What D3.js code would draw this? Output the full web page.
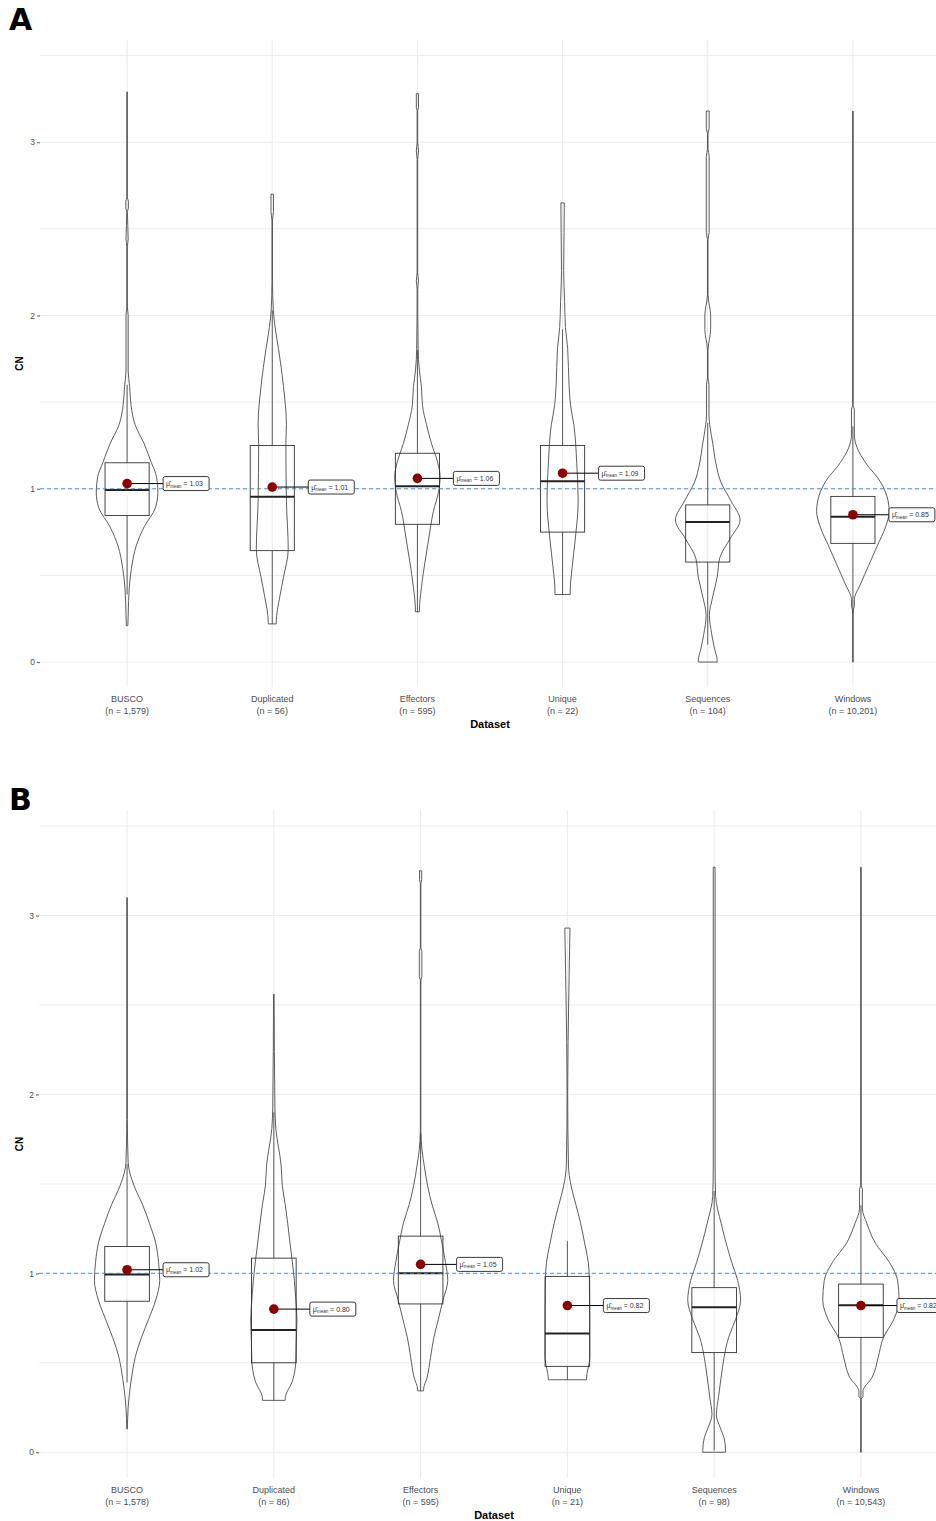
<!DOCTYPE html>
<html>
<head>
<meta charset="utf-8">
<script src="https://cdn.jsdelivr.net/npm/d3@7"></script>
<style>
  body { margin: 0; background: #fff; }
  svg { display: block; }
</style>
</head>
<body>
<svg id="fig" width="936" height="1521"></svg>
<script>
// ---- categories ----
const datasets = ["BUSCO", "Duplicated", "Effectors", "Unique", "Sequences", "Windows"];
const yTicks = [0, 1, 2, 3];

// ---- panel A: sample sizes and box statistics ----
const nA    = ["1,579", "56", "595", "22", "104", "10,201"];
const q1A   = [0.846, 0.643, 0.795, 0.750, 0.577, 0.685];
const medA  = [0.993, 0.954, 1.015, 1.044, 0.808, 0.839];
const q3A   = [1.150, 1.250, 1.205, 1.250, 0.907, 0.956];
const loA   = [0.39, 0.22, 0.29, 0.39, 0.10, 0.28];
const hiA   = [1.60, 2.03, 1.80, 1.92, 1.38, 1.36];
const meanA = [1.03, 1.01, 1.06, 1.09, null, 0.85];

// ---- panel A: violin density profiles [CN, relative density] ----
const buscoA = [[0.21,0.02],[0.27,0.03],[0.43,0.06],[0.54,0.12],[0.67,0.25],[0.78,0.47],[0.89,0.78],[0.98,0.85],[1.07,0.81],[1.15,0.67],[1.26,0.47],[1.37,0.22],[1.48,0.11],[1.59,0.07],[1.68,0.03],[1.80,0.03],[2.00,0.03],[2.05,0.008],[2.40,0.008],[2.44,0.03],[2.60,0.008],[2.62,0.035],[2.66,0.035],[2.68,0.008],[3.29,0.008]];
const dupA   = [[0.22,0.11],[0.23,0.11],[0.38,0.21],[0.49,0.31],[0.65,0.44],[0.93,0.39],[1.26,0.375],[1.37,0.39],[1.59,0.31],[1.81,0.17],[1.93,0.08],[2.03,0.03],[2.20,0.008],[2.55,0.008],[2.60,0.035],[2.70,0.035]];
const effA   = [[0.29,0.055],[0.30,0.055],[0.43,0.11],[0.58,0.21],[0.71,0.31],[0.87,0.44],[0.98,0.58],[1.07,0.625],[1.15,0.56],[1.26,0.39],[1.37,0.25],[1.48,0.14],[1.59,0.11],[1.68,0.055],[1.81,0.02],[2.15,0.008],[2.20,0.03],[2.25,0.008],[2.90,0.008],[2.95,0.03],[3.00,0.008],[3.18,0.008],[3.20,0.03],[3.28,0.03]];
const uniA   = [[0.39,0.21],[0.41,0.21],[0.54,0.26],[0.71,0.35],[0.93,0.43],[1.15,0.39],[1.37,0.31],[1.48,0.22],[1.59,0.18],[1.81,0.14],[1.93,0.08],[2.08,0.055],[2.26,0.03],[2.48,0.04],[2.65,0.047]];
const seqA   = [[0.00,0.26],[0.01,0.26],[0.075,0.19],[0.16,0.11],[0.27,0.045],[0.38,0.14],[0.49,0.26],[0.60,0.33],[0.71,0.61],[0.82,0.89],[0.93,0.64],[1.04,0.36],[1.15,0.22],[1.26,0.14],[1.37,0.055],[1.42,0.035],[1.60,0.035],[1.64,0.008],[1.80,0.008],[1.92,0.08],[2.00,0.08],[2.12,0.008],[2.44,0.008],[2.48,0.04],[2.92,0.04],[2.96,0.008],[3.05,0.008],[3.08,0.04],[3.18,0.04]];
const winA   = [[0.00,0.008],[0.30,0.008],[0.32,0.04],[0.36,0.04],[0.45,0.21],[0.56,0.44],[0.67,0.67],[0.78,0.90],[0.87,1.00],[0.93,0.97],[1.04,0.76],[1.15,0.35],[1.24,0.11],[1.31,0.04],[1.46,0.04],[1.48,0.008],[3.18,0.008]];

// ---- panel B: sample sizes and box statistics ----
const nB    = ["1,578", "86", "595", "21", "98", "10,543"];
const q1B   = [0.844, 0.500, 0.829, 0.480, 0.557, 0.642];
const medB  = [0.994, 0.683, 1.000, 0.664, 0.810, 0.822];
const q3B   = [1.150, 1.085, 1.208, 0.983, 0.920, 0.940];
const loB   = [0.39, 0.29, 0.343, 0.405, 0.01, 0.30];
const hiB   = [1.61, 1.90, 1.78, 1.18, 1.46, 1.38];
const meanB = [1.02, 0.80, 1.05, 0.82, null, 0.82];

// ---- panel B: violin density profiles [CN, relative density] ----
const buscoB = [[0.13,0.008],[0.25,0.03],[0.31,0.055],[0.42,0.125],[0.53,0.22],[0.64,0.39],[0.74,0.58],[0.85,0.78],[0.96,0.89],[1.06,0.86],[1.17,0.78],[1.28,0.61],[1.385,0.42],[1.49,0.19],[1.62,0.03],[1.86,0.008],[3.10,0.008]];
const dupB   = [[0.29,0.31],[0.30,0.31],[0.40,0.51],[0.51,0.60],[0.61,0.61],[0.74,0.63],[0.85,0.60],[0.96,0.56],[1.17,0.44],[1.385,0.31],[1.49,0.23],[1.60,0.20],[1.81,0.055],[1.92,0.03],[2.56,0.008]];
const effB   = [[0.343,0.08],[0.35,0.08],[0.42,0.18],[0.53,0.27],[0.64,0.36],[0.74,0.48],[0.85,0.61],[0.96,0.74],[1.06,0.68],[1.17,0.58],[1.28,0.47],[1.385,0.31],[1.49,0.19],[1.60,0.10],[1.685,0.04],[1.80,0.008],[2.64,0.008],[2.66,0.035],[2.80,0.035],[2.82,0.008],[3.18,0.008],[3.20,0.03],[3.25,0.03]];
const uniB   = [[0.405,0.52],[0.41,0.52],[0.53,0.61],[0.74,0.61],[0.96,0.60],[1.06,0.57],[1.17,0.47],[1.28,0.36],[1.385,0.23],[1.49,0.10],[1.60,0.03],[2.00,0.008],[2.58,0.04],[2.93,0.07]];
const seqB   = [[0.00,0.31],[0.01,0.31],[0.08,0.27],[0.14,0.16],[0.21,0.06],[0.31,0.12],[0.42,0.19],[0.53,0.27],[0.64,0.39],[0.74,0.58],[0.85,0.72],[0.96,0.64],[1.06,0.48],[1.17,0.325],[1.28,0.19],[1.43,0.04],[1.60,0.025],[3.27,0.025]];
const winB   = [[0.00,0.008],[0.30,0.008],[0.31,0.055],[0.34,0.055],[0.42,0.31],[0.53,0.47],[0.64,0.61],[0.74,0.89],[0.85,1.04],[0.96,1.00],[1.06,0.78],[1.17,0.39],[1.28,0.16],[1.36,0.04],[1.47,0.04],[1.49,0.008],[3.27,0.008]];

const svg = d3.select("#fig");
const FONT = "'Liberation Sans', Arial, sans-serif";

function drawPanel(p) {
  const g = svg.append("g");

  const x = d3.scalePoint().domain(datasets).range([p.left, p.right]).padding(0.6);
  const y = d3.scaleLinear().domain([-0.144, 3.59]).range([p.bottom, p.top]);
  const w = d3.scaleLinear().domain([0, 1]).range([0, x.step() * 0.25]);
  const boxHalf = x.step() * 0.152;

  // panel tag
  g.append("text").attr("x", 9).attr("y", p.tagY)
    .attr("font-family", "'DejaVu Sans', Verdana, sans-serif")
    .attr("font-weight", "bold").attr("font-size", 30).attr("fill", "#000")
    .text(p.tag);

  // grid
  const gridVals = d3.range(0, 3.51, 0.5);
  g.append("g").selectAll("line").data(gridVals).join("line")
    .attr("x1", p.left).attr("x2", 936)
    .attr("y1", d => y(d)).attr("y2", d => y(d))
    .attr("stroke", "#ebebeb").attr("stroke-width", 1);
  g.append("g").selectAll("line").data(datasets).join("line")
    .attr("x1", d => x(d)).attr("x2", d => x(d))
    .attr("y1", p.top).attr("y2", p.bottom)
    .attr("stroke", "#ebebeb").attr("stroke-width", 1);

  // y axis
  const yAxis = g.append("g").attr("transform", `translate(${p.left},0)`)
    .call(d3.axisLeft(y).tickValues(yTicks).tickSize(3).tickPadding(2).tickFormat(d3.format("d")));
  yAxis.select(".domain").remove();
  yAxis.selectAll(".tick line").attr("stroke", "#333").attr("stroke-width", 0.8);
  yAxis.selectAll(".tick text").attr("font-family", FONT).attr("font-size", 8.5).attr("fill", "#4d4d4d");

  g.append("text")
    .attr("transform", `translate(23,${(p.top + p.bottom) / 2}) rotate(-90)`)
    .attr("text-anchor", "middle").attr("font-family", FONT)
    .attr("font-weight", "bold").attr("font-size", 10).attr("fill", "#000")
    .text("CN");

  // x labels
  const xl = g.append("g").selectAll("text").data(datasets).join("text")
    .attr("text-anchor", "middle").attr("font-family", FONT)
    .attr("font-size", 9).attr("fill", "#4d4d4d");
  xl.append("tspan").attr("x", d => x(d)).attr("y", p.bottom + 15).text(d => d);
  xl.append("tspan").attr("x", d => x(d)).attr("y", p.bottom + 27).text((d, i) => `(n = ${p.n[i]})`);
  g.append("text").attr("x", (p.left + p.right) / 2).attr("y", p.bottom + 41)
    .attr("text-anchor", "middle").attr("font-family", FONT)
    .attr("font-weight", "bold").attr("font-size", 11).attr("fill", "#000")
    .text("Dataset");

  // violins
  datasets.forEach((ds, i) => {
    const cx = x(ds);
    const area = d3.area()
      .y(d => y(d[0]))
      .x0(d => cx - w(d[1]))
      .x1(d => cx + w(d[1]))
      .curve(d3.curveMonotoneY);
    g.append("path").attr("d", area(p.violins[i]))
      .attr("fill", "none").attr("stroke", "#4d4d4d").attr("stroke-width", 0.9);
  });

  // boxes and whiskers
  datasets.forEach((ds, i) => {
    const cx = x(ds);
    g.append("line").attr("x1", cx).attr("x2", cx)
      .attr("y1", y(p.q3[i])).attr("y2", y(p.hi[i]))
      .attr("stroke", "#333").attr("stroke-width", 0.8);
    g.append("line").attr("x1", cx).attr("x2", cx)
      .attr("y1", y(p.q1[i])).attr("y2", y(p.lo[i]))
      .attr("stroke", "#333").attr("stroke-width", 0.8);
    g.append("rect")
      .attr("x", cx - boxHalf).attr("width", boxHalf * 2)
      .attr("y", y(p.q3[i])).attr("height", y(p.q1[i]) - y(p.q3[i]))
      .attr("fill", "none").attr("stroke", "#333").attr("stroke-width", 0.9);
    g.append("line").attr("x1", cx - boxHalf).attr("x2", cx + boxHalf)
      .attr("y1", y(p.med[i])).attr("y2", y(p.med[i]))
      .attr("stroke", "#222").attr("stroke-width", 2);
  });

  // reference line at CN = 1
  g.append("line").attr("x1", p.left).attr("x2", 936)
    .attr("y1", y(1)).attr("y2", y(1))
    .attr("stroke", "#4f81bd").attr("stroke-width", 0.9).attr("stroke-dasharray", "4,3");

  // means with labels
  datasets.forEach((ds, i) => {
    const m = p.mean[i];
    if (m === null) return;
    const cx = x(ds), cy = y(m);
    const lx = cx + 36;
    g.append("line").attr("x1", cx).attr("x2", lx).attr("y1", cy).attr("y2", cy)
      .attr("stroke", "#000").attr("stroke-width", 1);
    const lab = g.append("g").attr("transform", `translate(${lx},${cy})`);
    lab.append("rect").attr("x", 0).attr("y", -7).attr("width", 46).attr("height", 14)
      .attr("rx", 2).attr("fill", "#fff").attr("stroke", "#222").attr("stroke-width", 0.9);
    const t = lab.append("text").attr("x", 3).attr("y", 2.5)
      .attr("font-family", FONT).attr("font-size", 7).attr("fill", "#333");
    t.append("tspan").text("\u03BC\u0302");
    t.append("tspan").attr("dy", 1.5).attr("font-size", 4.5).text("mean");
    t.append("tspan").attr("dy", -1.5).text(" = " + d3.format(".2f")(m));
    g.append("circle").attr("cx", cx).attr("cy", cy).attr("r", 4.8).attr("fill", "#8b0000");
  });
}

drawPanel({
  tag: "A", tagY: 30, top: 40, bottom: 687, left: 40, right: 940,
  violins: [buscoA, dupA, effA, uniA, seqA, winA],
  q1: q1A, med: medA, q3: q3A, lo: loA, hi: hiA, mean: meanA, n: nA
});

drawPanel({
  tag: "B", tagY: 810, top: 810, bottom: 1478, left: 39, right: 949,
  violins: [buscoB, dupB, effB, uniB, seqB, winB],
  q1: q1B, med: medB, q3: q3B, lo: loB, hi: hiB, mean: meanB, n: nB
});
</script>
</body>
</html>
